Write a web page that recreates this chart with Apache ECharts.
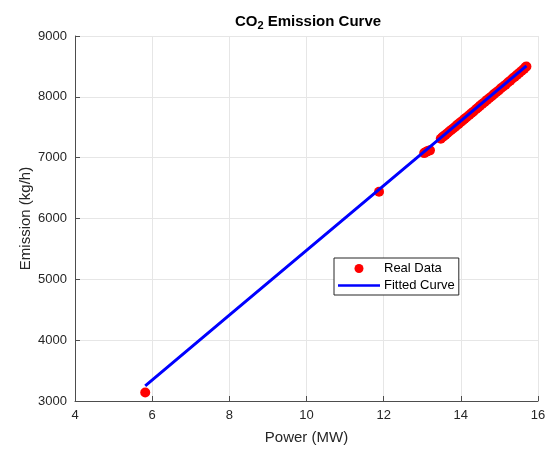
<!DOCTYPE html>
<html>
<head>
<meta charset="utf-8">
<script src="https://cdn.jsdelivr.net/npm/echarts@6/dist/echarts.min.js"></script>
<style>html,body{margin:0;padding:0;background:#fff}#c{width:550px;height:450px}</style>
</head>
<body>
<div id="c"></div>
<script>
var realX = [5.82, 11.88, 13.05, 13.1, 13.12, 13.15, 13.2,
  13.48, 13.52, 13.55, 13.6, 13.65, 13.7, 13.75, 13.8, 13.85, 13.9, 13.95, 14.0, 14.05, 14.1,
  14.15, 14.22, 14.28, 14.33, 14.4, 14.45, 14.5, 14.56, 14.62, 14.68, 14.74, 14.8, 14.86, 14.92,
  14.98, 15.04, 15.1, 15.16, 15.22, 15.28, 15.34, 15.4, 15.46, 15.52, 15.58, 15.64, 15.68, 15.7];
var realY = [3140, 6440, 7075, 7095, 7100, 7110, 7120,
  7310, 7335, 7350, 7375, 7400, 7430, 7455, 7480, 7505, 7535, 7560, 7585, 7610, 7640,
  7665, 7700, 7735, 7760, 7800, 7825, 7855, 7885, 7915, 7950, 7980, 8010, 8045, 8075,
  8105, 8140, 8170, 8200, 8235, 8265, 8300, 8330, 8365, 8395, 8430, 8460, 8490, 8500];
var fitX = [5.82, 8, 10, 12, 14, 15.7];
var fitY = [3250, 4410, 5475, 6540, 7605, 8510];
var xTicks = [4, 6, 8, 10, 12, 14, 16];
var yTicks = [3000, 4000, 5000, 6000, 7000, 8000, 9000];

var realData = realX.map(function (x, i) { return [x, realY[i]]; });
var fitData = fitX.map(function (x, i) { return [x, fitY[i]]; });
var font = 'Liberation Sans, Arial, sans-serif';
var axisCol = '#4d4d4d';
var lineIcon = 'path://M0,0L0.01,0L0.01,0.01Z M0,3.3L42,3.3L42,5.7L0,5.7Z M0,9L0.01,9L0.01,8.99Z';

var chart = echarts.init(document.getElementById('c'));
chart.setOption({
  animation: false,
  backgroundColor: '#fff',
  title: {
    text: '{a|CO}{s|2}{a| Emission Curve}',
    left: 303, top: 7, textAlign: 'center',
    textStyle: {
      rich: {
        a: { fontFamily: font, fontSize: 15, fontWeight: 'bold', color: '#000', lineHeight: 19 },
        s: { fontFamily: font, fontSize: 11, fontWeight: 'bold', color: '#000', padding: [9, 0, 0, 0], lineHeight: 19 }
      }
    }
  },
  grid: { left: 75, right: 12, top: 36, bottom: 49 },
  legend: {
    orient: 'vertical', left: 334, top: 258,
    backgroundColor: '#fff', borderColor: '#262626', borderWidth: 1, borderRadius: 0,
    padding: [3, 4, 2, 4], itemGap: 2, itemWidth: 42, itemHeight: 9,
    textStyle: { fontFamily: font, fontSize: 13, lineHeight: 15, color: '#000', padding: [0, 0, 0, -1] },
    data: [{ name: 'Real Data', icon: 'circle' }, { name: 'Fitted Curve', icon: lineIcon }]
  },
  xAxis: {
    type: 'value', min: 4, max: 16, interval: 2,
    name: 'Power (MW)', nameLocation: 'middle', nameGap: 29, nameMoveOverlap: false,
    nameTextStyle: { fontFamily: font, fontSize: 15, color: '#262626' },
    axisLine: { lineStyle: { color: axisCol } },
    axisTick: { inside: true, length: 5, lineStyle: { color: axisCol } },
    axisLabel: { fontFamily: font, fontSize: 13, color: '#262626', margin: 8,
      formatter: function (v) { return xTicks.indexOf(v) >= 0 ? String(v) : ''; } },
    splitLine: { show: true, lineStyle: { color: '#e6e6e6' } }
  },
  yAxis: {
    type: 'value', min: 3000, max: 9000, interval: 1000,
    name: 'Emission (kg/h)', nameLocation: 'middle', nameGap: 42, nameMoveOverlap: false,
    nameTextStyle: { fontFamily: font, fontSize: 15, color: '#262626' },
    axisLine: { show: true, lineStyle: { color: axisCol } },
    axisTick: { show: true, inside: true, length: 5, lineStyle: { color: axisCol } },
    axisLabel: { fontFamily: font, fontSize: 13, color: '#262626', margin: 8,
      formatter: function (v) { return yTicks.indexOf(v) >= 0 ? String(v) : ''; } },
    splitLine: { show: true, lineStyle: { color: '#e6e6e6' } }
  },
  series: [
    {
      name: 'Real Data', type: 'scatter', data: realData,
      symbol: 'circle', symbolSize: 10,
      itemStyle: { color: '#ff0000', opacity: 1 }, z: 2
    },
    {
      name: 'Fitted Curve', type: 'line', data: fitData,
      symbol: 'none', showSymbol: false,
      lineStyle: { color: '#0000ff', width: 3 }, itemStyle: { color: '#0000ff' }, z: 3
    }
  ]
});
</script>
</body>
</html>
